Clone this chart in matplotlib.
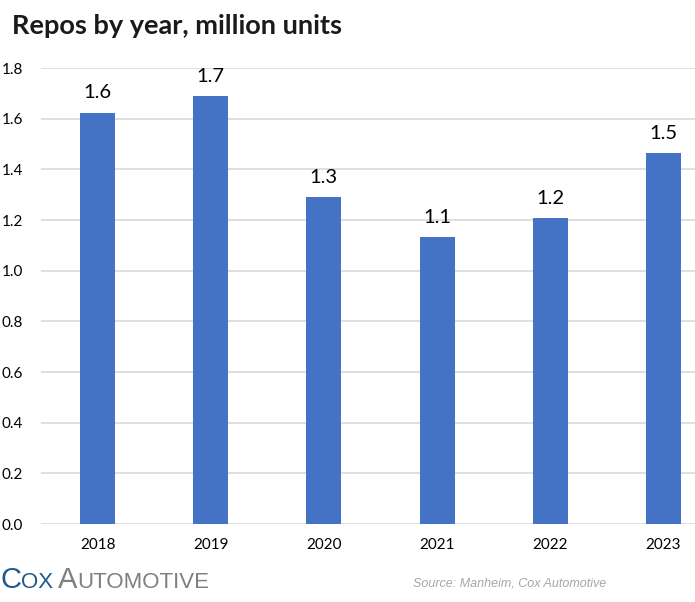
import matplotlib
matplotlib.use("Agg")
import matplotlib.pyplot as plt

years = ["2018", "2019", "2020", "2021", "2022", "2023"]
repos = [1.624, 1.691, 1.291, 1.134, 1.207, 1.466]
yticks = [0.0, 0.2, 0.4, 0.6, 0.8, 1.0, 1.2, 1.4, 1.6, 1.8]

W, H = 695, 602
fig = plt.figure(figsize=(W / 100, H / 100), dpi=100)
plt.rcParams['font.family'] = ['Lato', 'DejaVu Sans']

left_px, right_px, top_px, bot_px = 41, 720, 68, 524
ax = fig.add_axes([left_px / W, 1 - bot_px / H, (right_px - left_px) / W, (bot_px - top_px) / H])

x = list(range(len(years)))
bars = ax.bar(x, repos, width=0.31, color="#4472C4", zorder=3)
ax.set_xlim(-0.5, len(years) - 0.5)
ax.set_ylim(0, 1.8)
ax.set_yticks(yticks)
ax.set_yticklabels([f"{v:.1f}" for v in yticks])
ax.set_xticks(x)
ax.set_xticklabels(years)
ax.yaxis.grid(True, color="#D9D9D9", linewidth=1.2, zorder=0)
ax.set_axisbelow(True)
for s in ax.spines.values():
    s.set_visible(False)
ax.tick_params(axis="both", length=0, labelsize=11, colors="#000000")
ax.tick_params(axis="y", pad=13)
ax.tick_params(axis="x", pad=10)

for xi, v in zip(x, repos):
    ax.annotate(f"{v:.1f}", (xi, v), xytext=(0, 8), textcoords="offset points",
                ha="center", va="bottom", fontsize=14.5, color="#000000")

fig.text(12 / W, 1 - 26 / H, "Repos by year, million units", fontsize=19.5, fontweight="bold",
         color="#1a1a1a", va="center", ha="left")

# Logo in small caps
fig.canvas.draw()
r = fig.canvas.get_renderer()
pieces = [("C", 21, "#1F5A8C"), ("OX", 16, "#1F5A8C"), (" ", 12, "#1F5A8C"),
          ("A", 21, "#7F7F7F"), ("UTOMOTIVE", 16, "#7F7F7F")]
xpos = 0
base_y = 1 - 588 / H
for txt, sz, col in pieces:
    t = fig.text(xpos / W, base_y, txt, fontsize=sz, color=col,
                 family=["Liberation Sans Narrow", "Liberation Sans", "DejaVu Sans"],
                 va="baseline", ha="left")
    bb = t.get_window_extent(renderer=r)
    xpos += bb.width

fig.text(413 / W, 1 - 583 / H, "Source: Manheim, Cox Automotive", fontsize=9, style="italic",
         color="#A6A6A6", family=["Liberation Sans", "DejaVu Sans"], va="center", ha="left")

fig.savefig("out.png", dpi=100)
